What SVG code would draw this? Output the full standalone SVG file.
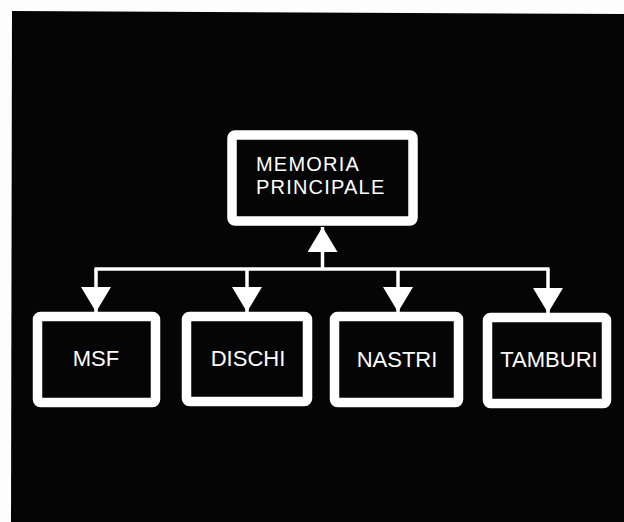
<svg xmlns="http://www.w3.org/2000/svg" width="624" height="522" viewBox="0 0 624 522">
  <defs>
    <style>
      .box { fill: #050505; stroke: #ffffff; stroke-width: 9.5; }
      .lbl { font-family: "Liberation Sans", Arial, sans-serif; font-size: 22px; fill: #ffffff; }
      .top { font-size: 20px; letter-spacing: 1.2px; }
      .mid { text-anchor: middle; }
      .wire { stroke: #ffffff; stroke-width: 3.5; fill: none; }
    </style>
    <marker id="head" markerUnits="userSpaceOnUse" markerWidth="26" markerHeight="30" refX="25" refY="15" orient="auto" viewBox="0 0 26 30">
      <path d="M0,0 L25,15 L0,30 Z" fill="#ffffff"/>
    </marker>
  </defs>
  <rect x="0" y="0" width="624" height="522" fill="#fdfdfd"/>
  <polygon points="12,11 624,14 624,522 11,522" fill="#050505"/>

  <g id="connectors">
    <line class="wire" x1="322.5" y1="270" x2="322.5" y2="227" marker-end="url(#head)"/>
    <line class="wire" x1="94.5" y1="269" x2="549.5" y2="269"/>
    <line class="wire" x1="96" y1="269" x2="96" y2="312" marker-end="url(#head)"/>
    <line class="wire" x1="247" y1="269" x2="247" y2="312" marker-end="url(#head)"/>
    <line class="wire" x1="398" y1="269" x2="398" y2="312" marker-end="url(#head)"/>
    <line class="wire" x1="548" y1="269" x2="548" y2="313" marker-end="url(#head)"/>
  </g>

  <g id="memoria-principale">
    <rect class="box" x="232" y="135" width="181" height="86" rx="3"/>
    <text class="lbl top" x="256" y="171">MEMORIA</text>
    <text class="lbl top" x="256" y="194">PRINCIPALE</text>
  </g>
  <g id="msf">
    <rect class="box" x="37.5" y="316.5" width="118" height="86" rx="3"/>
    <text class="lbl mid" x="96" y="366">MSF</text>
  </g>
  <g id="dischi">
    <rect class="box" x="186.5" y="316.5" width="121" height="85" rx="3"/>
    <text class="lbl mid" x="248" y="366">DISCHI</text>
  </g>
  <g id="nastri">
    <rect class="box" x="334.5" y="316.5" width="124" height="86" rx="3"/>
    <text class="lbl mid" x="397" y="367">NASTRI</text>
  </g>
  <g id="tamburi">
    <rect class="box" x="487.5" y="317.5" width="119" height="86" rx="3"/>
    <text class="lbl mid" x="549" y="367">TAMBURI</text>
  </g>
</svg>
